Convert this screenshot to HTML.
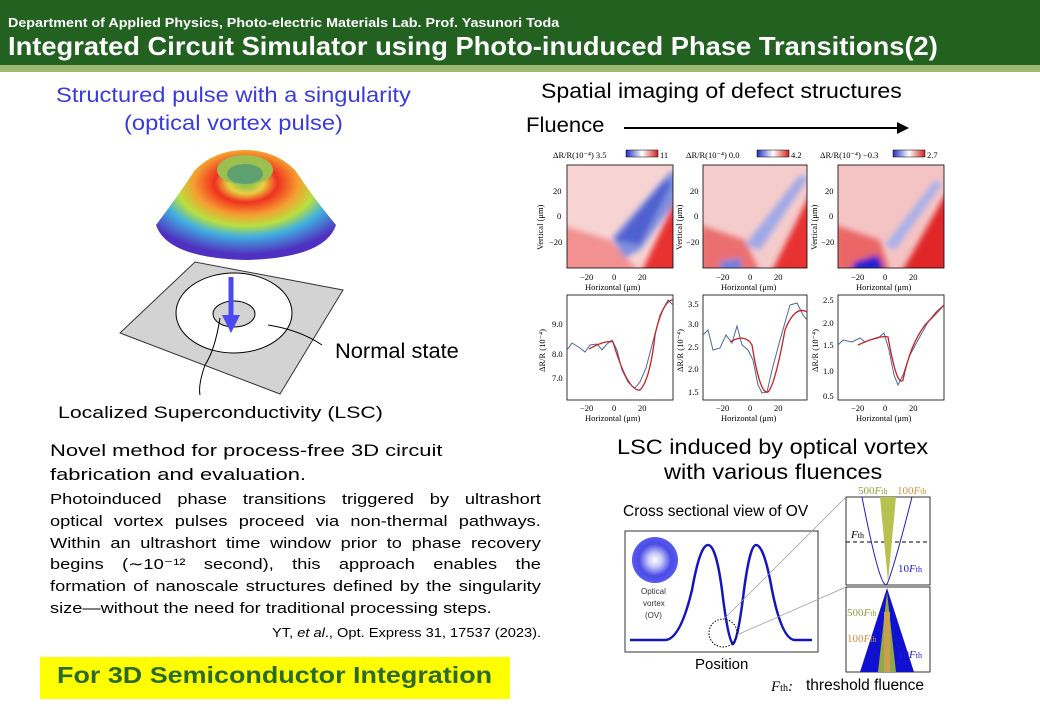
<!DOCTYPE html>
<html><head><meta charset="utf-8"><style>
body{margin:0;width:1040px;height:720px;background:#fff;position:relative;overflow:hidden;font-family:"Liberation Sans",sans-serif}
.a{position:absolute;white-space:nowrap;transform-origin:left top}
.j{display:block;text-align:justify;text-align-last:justify;height:21.8px}
</style></head><body>
<div class="a" style="left:0;top:0;width:1040px;height:65px;background:#22611f"></div>
<div class="a" style="left:0;top:65px;width:1040px;height:7px;background:#9cb972"></div>
<div class="a" style="left:8px;top:15px;color:#fff;font-size:13px;font-weight:bold;transform:scaleX(1.1)">Department of Applied Physics, Photo-electric Materials Lab. Prof. Yasunori Toda</div>
<div class="a" style="left:8px;top:31px;color:#fff;font-size:26px;font-weight:bold;transform:scaleX(1.05)">Integrated Circuit Simulator using Photo-inuduced Phase Transitions(2)</div>

<div class="a" style="left:56px;top:84px;color:#3b3bdc;font-size:21px;transform:scaleX(1.13)">Structured pulse with a singularity</div>
<div class="a" style="left:124px;top:112px;color:#3b3bdc;font-size:21px;transform:scaleX(1.13)">(optical vortex pulse)</div>

<svg class="a" style="left:0;top:0" width="1040" height="720">
<defs>
<radialGradient id="tor" cx="50%" cy="30%" r="65%">
<stop offset="0" stop-color="#6fbf5a"/><stop offset="0.15" stop-color="#e8d040"/><stop offset="0.27" stop-color="#f03020"/><stop offset="0.45" stop-color="#f5a030"/><stop offset="0.6" stop-color="#b8e040"/><stop offset="0.75" stop-color="#40b0e0"/><stop offset="1" stop-color="#5030c0"/></radialGradient>
<radialGradient id="ov"><stop offset="0" stop-color="#fff"/><stop offset="0.3" stop-color="#c8c8f8"/><stop offset="0.7" stop-color="#4a4ae8"/><stop offset="1" stop-color="#5a5af0"/></radialGradient>
<filter id="bl"><feGaussianBlur stdDeviation="3"/></filter>
<clipPath id="c1"><rect x="567" y="165" width="106" height="103"/></clipPath>
<clipPath id="c2"><rect x="703" y="165" width="104" height="103"/></clipPath>
<clipPath id="c3"><rect x="838" y="165" width="106" height="103"/></clipPath>
</defs>
<path d="M156,225 Q175,200 195,170 Q215,150 245,150 Q275,150 295,170 Q315,200 336,225 Q325,258 246,260 Q167,258 156,225Z" fill="url(#tor)"/>
<ellipse cx="245" cy="170" rx="28" ry="15" fill="#9cc050"/>
<ellipse cx="245" cy="174" rx="18" ry="10" fill="#5fa070"/>
<polygon points="120,333 195,262 343,290 280,394" fill="#d3d3d3" stroke="#333" stroke-width="1"/>
<ellipse cx="234" cy="313" rx="58" ry="40" fill="#fff" stroke="#000"/>
<ellipse cx="234" cy="314" rx="21" ry="13" fill="#d3d3d3" stroke="#000"/>
<line x1="231" y1="277" x2="231" y2="318" stroke="#4a4af0" stroke-width="5"/>
<polygon points="222,315 240,315 231,333" fill="#4a4af0"/>
<path d="M268,325 Q300,330 322,345" stroke="#000" fill="none"/>
<path d="M220,318 Q215,350 205,365 Q198,385 200,395" stroke="#000" fill="none"/>

<g clip-path="url(#c1)"><rect x="567" y="165" width="106" height="103" fill="#f7d4d2"/>
<g filter="url(#bl)"><polygon points="560,225 610,240 640,272 560,272" fill="#f08080" opacity="0.8"/>
<polygon points="640,275 680,190 680,275" fill="#e83030"/><polygon points="612,238 670,172 680,172 680,195 640,250 625,258" fill="#8090e0"/>
<polygon points="615,240 665,180 672,183 640,245" fill="#5060d0"/></g></g>
<g clip-path="url(#c2)"><rect x="703" y="165" width="104" height="103" fill="#f5cccc"/>
<g filter="url(#bl)"><polygon points="700,225 745,240 760,272 700,272" fill="#e85858" opacity="0.8"/>
<polygon points="770,275 812,190 812,275" fill="#e83030"/><polygon points="745,245 800,175 808,178 760,250" fill="#a0a8e8"/>
<polygon points="720,262 740,258 742,272 720,272" fill="#7080e0"/></g></g>
<g clip-path="url(#c3)"><rect x="838" y="165" width="106" height="103" fill="#f4c4c4"/>
<g filter="url(#bl)"><polygon points="835,225 880,240 890,272 835,272" fill="#e85050" opacity="0.8"/>
<polygon points="900,275 948,190 948,275" fill="#e02828"/><polygon points="885,245 935,180 942,184 895,250" fill="#a8b0ea"/>
<polygon points="855,262 878,255 885,272 850,272" fill="#2020d0"/></g></g>
<g fill="none" stroke="#000" stroke-width="0.8">
<rect x="567" y="165" width="106" height="103"/><rect x="703" y="165" width="104" height="103"/><rect x="838" y="165" width="106" height="103"/>
<rect x="567" y="295" width="106" height="105"/><rect x="703" y="295" width="104" height="105"/><rect x="838" y="295" width="106" height="105"/>
<rect x="625" y="531" width="193" height="121"/><rect x="846" y="497" width="84" height="88"/><rect x="846" y="587" width="84" height="85"/>
</g>
<defs><linearGradient id="cb"><stop offset="0" stop-color="#2030c0"/><stop offset="0.5" stop-color="#fff"/><stop offset="1" stop-color="#d02020"/></linearGradient></defs>
<rect x="626" y="150" width="32" height="7" fill="url(#cb)" stroke="#000" stroke-width="0.5"/>
<rect x="757" y="150" width="32" height="7" fill="url(#cb)" stroke="#000" stroke-width="0.5"/>
<rect x="893" y="150" width="32" height="7" fill="url(#cb)" stroke="#000" stroke-width="0.5"/>
<g font-family="Liberation Serif" font-size="8.5" fill="#000">
<text x="553" y="158">ΔR/R(10⁻⁴)  3.5</text><text x="660" y="158">11</text>
<text x="686" y="158">ΔR/R(10⁻⁴)  0.0</text><text x="791" y="158">4.2</text>
<text x="820" y="158">ΔR/R(10⁻⁴) −0.3</text><text x="927" y="158">2.7</text>
<g id="hx"><text x="580" y="280">−20</text><text x="612" y="280">0</text><text x="638" y="280">20</text><text x="585" y="290" font-size="8.5">Horizontal (μm)</text></g>
<use href="#hx" x="136"/><use href="#hx" x="271"/>
<text x="553" y="194">20</text><text x="557" y="219">0</text><text x="549" y="245">−20</text>
<text x="690" y="194">20</text><text x="694" y="219">0</text><text x="686" y="245">−20</text>
<text x="825" y="194">20</text><text x="829" y="219">0</text><text x="821" y="245">−20</text>
<g id="hx2"><text x="580" y="411">−20</text><text x="612" y="411">0</text><text x="638" y="411">20</text><text x="585" y="421">Horizontal (μm)</text></g>
<use href="#hx2" x="136"/><use href="#hx2" x="271"/>
<text x="552" y="327">9.0</text><text x="552" y="357">8.0</text><text x="552" y="381">7.0</text>
<text x="688" y="307">3.5</text><text x="688" y="327">3.0</text><text x="688" y="350">2.5</text><text x="688" y="372">2.0</text><text x="688" y="395">1.5</text>
<text x="823" y="303">2.5</text><text x="823" y="326">2.0</text><text x="823" y="348">1.5</text><text x="823" y="374">1.0</text><text x="823" y="399">0.5</text>
<text transform="translate(543,250) rotate(-90)">Vertical (μm)</text>
<text transform="translate(682,250) rotate(-90)">Vertical (μm)</text>
<text transform="translate(817,250) rotate(-90)">Vertical (μm)</text>
<text transform="translate(545,372) rotate(-90)">ΔR/R (10⁻⁴)</text>
<text transform="translate(683,372) rotate(-90)">ΔR/R (10⁻⁴)</text>
<text transform="translate(818,372) rotate(-90)">ΔR/R (10⁻⁴)</text>
</g>
<g fill="none" stroke-width="1">
<path d="M567,350 L572,343 L580,348 L585,352 L590,345 L597,344 L602,350 L607,344 L612,340 L617,350 L622,370 L628,382 L632,386 L635,388 L640,382 L646,368 L652,345 L660,315 L668,300 L673,305" stroke="#4a6a9a"/>
<path d="M589,349 Q605,340 613,342 Q628,392 640,390 Q650,380 655,335 Q663,300 673,300" stroke="#c82020" stroke-width="1.3"/>
<path d="M703,335 L708,330 L713,350 L720,348 L726,335 L732,343 L737,326 L742,345 L748,350 L753,360 L758,385 L762,393 L767,392 L772,370 L780,340 L790,305 L797,303 L803,315 L807,320" stroke="#4a6a9a"/>
<path d="M730,342 Q745,333 752,345 Q760,395 768,392 Q775,385 785,330 Q795,305 807,312" stroke="#c82020" stroke-width="1.3"/>
<path d="M838,345 L843,340 L852,342 L860,338 L865,342 L870,340 L878,338 L884,333 L889,350 L894,375 L898,385 L903,375 L910,355 L918,340 L928,322 L936,312 L944,305" stroke="#4a6a9a"/>
<path d="M858,345 Q880,335 888,337 Q897,388 903,380 Q910,345 925,325 Q935,315 944,305" stroke="#c82020" stroke-width="1.3"/>
</g>
<circle cx="655" cy="560" r="23" fill="url(#ov)"/>
<path d="M630,640 L665,640 Q680,640 692,590 Q700,545 708,545 Q716,545 722,590 Q728,640 733,644 Q738,640 744,590 Q750,545 756,545 Q764,545 772,590 Q782,640 795,640 L812,640" fill="none" stroke="#1515c0" stroke-width="2.5"/>
<circle cx="723" cy="633" r="14" fill="none" stroke="#000" stroke-dasharray="1.5,1.5"/>
<line x1="723" y1="620" x2="846" y2="497" stroke="#999" stroke-width="0.7"/>
<line x1="737" y1="635" x2="846" y2="587" stroke="#999" stroke-width="0.7"/>
<line x1="846" y1="542" x2="930" y2="542" stroke="#000" stroke-dasharray="4,3"/>
<path d="M862,497 Q882,600 888,582 Q896,560 912,497" fill="none" stroke="#2020c0"/>
<polygon points="880,497 888,582 896,497" fill="#b8c050"/>
<polygon points="860,672 887,588 914,672" fill="#1010d0"/>
<polygon points="878,672 887,592 896,672" fill="#90a848"/>
<rect x="884" y="612" width="6" height="60" fill="#c8a050"/>
<g font-family="Liberation Serif" font-size="11" fill="#000">
<text x="851" y="538" font-style="italic">F<tspan font-size="8" font-style="normal">th</tspan></text>
<text x="898" y="572" fill="#2020c0">10<tspan font-style="italic">F</tspan><tspan font-size="8">th</tspan></text>
<text x="898" y="658" fill="#2020c0">10<tspan font-style="italic">F</tspan><tspan font-size="8">th</tspan></text>
<text x="847" y="616" fill="#90a040">500<tspan font-style="italic">F</tspan><tspan font-size="8">th</tspan></text>
<text x="847" y="642" fill="#d09040">100<tspan font-style="italic">F</tspan><tspan font-size="8">th</tspan></text>
<text x="858" y="494" fill="#90a040">500<tspan font-style="italic">F</tspan><tspan font-size="8">th</tspan></text>
<text x="897" y="494" fill="#d09040">100<tspan font-style="italic">F</tspan><tspan font-size="8">th</tspan></text>
<text x="771" y="691" font-size="15" font-style="italic">F<tspan font-size="10" font-style="normal">th</tspan>:</text>
</g>
<g font-size="8" fill="#333"><text x="641" y="594">Optical</text><text x="643" y="606">vortex</text><text x="645" y="618">(OV)</text></g>
<line x1="624" y1="128" x2="900" y2="128" stroke="#000" stroke-width="2"/>
<polygon points="897,122 909,128 897,134" fill="#000"/>
</svg>

<div class="a" style="left:541px;top:80px;font-size:21px;transform:scaleX(1.1)">Spatial imaging of defect structures</div>
<div class="a" style="left:526px;top:114px;font-size:21px;transform:scaleX(1.05)">Fluence</div>
<div class="a" style="left:335px;top:340px;font-size:21px;transform:scaleX(1.04)">Normal state</div>
<div class="a" style="left:58px;top:403px;font-size:17px;transform:scaleX(1.25)">Localized Superconductivity (LSC)</div>
<div class="a" style="left:617px;top:436px;font-size:21px;transform:scaleX(1.12)">LSC induced by optical vortex</div>
<div class="a" style="left:664px;top:461px;font-size:21px;transform:scaleX(1.12)">with various fluences</div>
<div class="a" style="left:623px;top:503px;font-size:15.5px">Cross sectional view of OV</div>
<div class="a" style="left:695px;top:656px;font-size:15px">Position</div>
<div class="a" style="left:806px;top:677px;font-size:15.5px">threshold fluence</div>
<div class="a" style="left:50px;top:439px;font-size:17px;line-height:24px;transform:scaleX(1.29)">Novel method for process-free 3D circuit<br>fabrication and evaluation.</div>
<div class="a" style="left:50px;top:489px;width:404px;font-size:15px;line-height:21.8px;white-space:normal;transform:scaleX(1.215)">
<span class="j">Photoinduced phase transitions triggered by ultrashort</span>
<span class="j">optical vortex pulses proceed via non-thermal pathways.</span>
<span class="j">Within an ultrashort time window prior to phase recovery</span>
<span class="j">begins (∼10⁻¹² second), this approach enables the</span>
<span class="j">formation of nanoscale structures defined by the singularity</span>
<span style="display:block">size—without the need for traditional processing steps.</span></div>
<div class="a" style="left:272px;top:626px;font-size:12.5px;transform:scaleX(1.17)">YT, <i>et al</i>., Opt. Express 31, 17537 (2023).</div>
<div class="a" style="left:40px;top:657px;width:470px;height:42px;background:#ffff00"></div>
<div class="a" style="left:57px;top:662px;font-size:23px;font-weight:bold;color:#2a6a2a;transform:scaleX(1.17)">For 3D Semiconductor Integration</div>
</body></html>
